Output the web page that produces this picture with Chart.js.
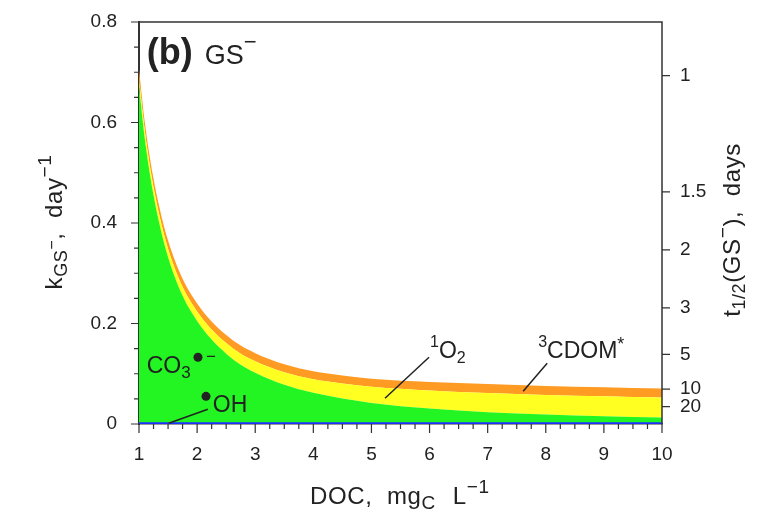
<!DOCTYPE html>
<html>
<head>
<meta charset="utf-8">
<script src="https://cdn.jsdelivr.net/npm/chart.js@4/dist/chart.umd.min.js"></script>
<style>
    body { margin: 0; background: #fff; }
    #wrap { width: 763px; height: 528px; }
</style>
</head>
<body>
<div id="wrap"><canvas id="gsChart" width="763" height="528"></canvas></div>
<script>
// DOC, mgC/L
const docValues = [1, 1.1, 1.2, 1.35, 1.5, 1.75, 2, 2.25, 2.5, 2.75, 3, 3.5, 4, 4.5, 5, 6, 7, 8, 9, 10];
// pseudo-first order rate constants, day^-1, per reactive species
const kOH    = [0.002, 0.002, 0.002, 0.002, 0.002, 0.002, 0.002, 0.002, 0.002, 0.002, 0.002, 0.002, 0.002, 0.002, 0.002, 0.002, 0.002, 0.002, 0.002, 0.002];
const kCO3   = [0.670, 0.565, 0.486, 0.397, 0.330, 0.253, 0.203, 0.166, 0.138, 0.116, 0.100, 0.0760, 0.0600, 0.0485, 0.040, 0.0286, 0.0215, 0.0167, 0.0133, 0.0107];
const k1O2   = [0.016, 0.016, 0.016, 0.017, 0.017, 0.018, 0.019, 0.020, 0.021, 0.022, 0.023, 0.025, 0.027, 0.030, 0.032, 0.036, 0.038, 0.039, 0.040, 0.040];
const k3CDOM = [0.018, 0.017, 0.017, 0.016, 0.016, 0.016, 0.016, 0.016, 0.016, 0.016, 0.016, 0.016, 0.016, 0.016, 0.016, 0.017, 0.018, 0.018, 0.018, 0.018];

const xTicks = [1, 2, 3, 4, 5, 6, 7, 8, 9, 10];
const yTicks = [0, 0.2, 0.4, 0.6, 0.8];
const halfLives = [1, 1.5, 2, 3, 5, 10, 20]; // days, right axis

const FONT = '"Liberation Sans", Arial, sans-serif';
const AXIS = '#333';

// stack the layers: each one sits on top of the previous
function stackOn(base, layer) {
    return layer.map((v, i) => (base ? base[i] : 0) + v);
}
const topOH = stackOn(null, kOH);
const topCO3 = stackOn(topOH, kCO3);
const top1O2 = stackOn(topCO3, k1O2);
const top3CDOM = stackOn(top1O2, k3CDOM);

function pts(arr) {
    return docValues.map((x, i) => ({ x: x, y: arr[i] }));
}

// draw a run of text pieces (sub/superscripts), returns end x
function drawParts(ctx, x, y, parts) {
    parts.forEach(p => {
        ctx.font = (p.w || 'normal') + ' ' + p.s + 'px ' + FONT;
        ctx.fillText(p.t, x, y + (p.dy || 0));
        x += ctx.measureText(p.t).width + (p.gap || 0);
    });
    return x;
}
function partsWidth(ctx, parts) {
    let w = 0;
    parts.forEach(p => {
        ctx.font = (p.w || 'normal') + ' ' + p.s + 'px ' + FONT;
        w += ctx.measureText(p.t).width + (p.gap || 0);
    });
    return w;
}

const decorations = {
    id: 'decorations',
    afterDraw(chart) {
        const ctx = chart.ctx;
        const xs = chart.scales.x, ys = chart.scales.y;
        const area = chart.chartArea;
        const px = v => xs.getPixelForValue(v);
        const py = v => ys.getPixelForValue(v);
        ctx.save();

        // box: top and right
        ctx.strokeStyle = AXIS;
        ctx.lineWidth = 1.5;
        ctx.beginPath();
        ctx.moveTo(area.left, area.top);
        ctx.lineTo(area.right, area.top);
        ctx.lineTo(area.right, area.bottom);
        ctx.stroke();

        // ticks
        ctx.lineWidth = 1.2;
        ctx.beginPath();
        for (let v = 1; v <= 10.001; v += 0.25) {
            const len = Math.abs(v - Math.round(v)) < 1e-6 ? 9 : 5;
            ctx.moveTo(px(v), area.bottom);
            ctx.lineTo(px(v), area.bottom + len);
        }
        for (let v = 0; v <= 0.8001; v += 0.05) {
            const major = Math.abs(v / 0.2 - Math.round(v / 0.2)) < 1e-6;
            const len = major ? 8 : 5;
            ctx.moveTo(area.left, py(v));
            ctx.lineTo(area.left - len, py(v));
        }
        halfLives.forEach(t => {
            ctx.moveTo(area.right, py(Math.LN2 / t));
            ctx.lineTo(area.right + 8, py(Math.LN2 / t));
        });
        ctx.stroke();

        ctx.fillStyle = '#222';
        ctx.textBaseline = 'alphabetic';
        ctx.textAlign = 'left';

        // panel label
        let x = drawParts(ctx, px(1.133), py(0.716), [{ t: '(b)', s: 36, w: 'bold', gap: 12 }]);
        drawParts(ctx, x, py(0.716), [{ t: 'GS', s: 27 }, { t: '\u2212', s: 22, dy: -15 }]);

        // species labels
        drawParts(ctx, px(1.133), py(0.1009), [{ t: 'CO', s: 23 }, { t: '3', s: 17, dy: 5 }]);
        ctx.beginPath();
        ctx.arc(px(2.015), py(0.1328), 4.5, 0, Math.PI * 2);
        ctx.fill();
        drawParts(ctx, px(2.015) + 8, py(0.1328) + 5, [{ t: '\u2212', s: 17 }]);

        ctx.beginPath();
        ctx.arc(px(2.153), py(0.0551), 4.5, 0, Math.PI * 2);
        ctx.fill();
        drawParts(ctx, px(2.27), py(0.0233), [{ t: 'OH', s: 23 }]);

        drawParts(ctx, px(6.008), py(0.1307), [{ t: '1', s: 16, dy: -11 }, { t: 'O', s: 23 }, { t: '2', s: 16, dy: 5 }]);
        drawParts(ctx, px(7.869), py(0.1307), [{ t: '3', s: 16, dy: -11 }, { t: 'CDOM', s: 23 }, { t: '*', s: 18, dy: -8 }]);

        // leader lines
        ctx.strokeStyle = '#222';
        ctx.lineWidth = 1.5;
        [[1.512, 0.0014, 2.184, 0.0293], [5.233, 0.0511, 5.991, 0.1328], [7.611, 0.0651, 8.024, 0.1208]].forEach(l => {
            ctx.beginPath();
            ctx.moveTo(px(l[0]), py(l[1]));
            ctx.lineTo(px(l[2]), py(l[3]));
            ctx.stroke();
        });

        // axis titles
        ctx.letterSpacing = '0.6px';
        const xTitle = [{ t: 'DOC,  mg', s: 24 }, { t: 'C', s: 19, dy: 5, gap: 17 }, { t: 'L', s: 24 }, { t: '\u22121', s: 19, dy: -11 }];
        drawParts(ctx, 310, 504, xTitle);

        const yTitle = [{ t: 'k', s: 24 }, { t: 'GS', s: 18, dy: 5 }, { t: '\u2212', s: 16, dy: -5 }, { t: ',  day', s: 24 }, { t: '\u22121', s: 19, dy: -11 }];
        const yw = partsWidth(ctx, yTitle);
        ctx.save();
        ctx.translate(62, 222);
        ctx.rotate(-Math.PI / 2);
        drawParts(ctx, -yw / 2, 0, yTitle);
        ctx.restore();

        const rTitle = [{ t: 't', s: 24 }, { t: '1/2', s: 18, dy: 5 }, { t: '(GS', s: 24 }, { t: '\u2212', s: 19, dy: -11 }, { t: '),  days', s: 24 }];
        const rw = partsWidth(ctx, rTitle);
        ctx.save();
        ctx.translate(740, 230);
        ctx.rotate(-Math.PI / 2);
        drawParts(ctx, -rw / 2, 0, rTitle);
        ctx.restore();

        ctx.restore();
    }
};

function layer(label, arr, color, fill) {
    return {
        label: label,
        data: pts(arr),
        borderWidth: 0,
        borderColor: color,
        backgroundColor: color,
        fill: fill,
        pointRadius: 0,
        cubicInterpolationMode: 'monotone'
    };
}

// fixed plot box: no extra room reserved for the end labels
function noPad(s) {
    s.paddingTop = 0;
    s.paddingBottom = 0;
}

document.addEventListener("DOMContentLoaded", function() {
    const ctx = document.getElementById("gsChart").getContext("2d");
    const blue = layer('OH', topOH, '#2030ff', 'origin');
    blue.borderWidth = 1.5;
    new Chart(ctx, {
        type: "line",
        data: {
            datasets: [
                blue,
                layer('CO3', topCO3, '#22f522', '-1'),
                layer('1O2', top1O2, '#ffff22', '-1'),
                layer('3CDOM', top3CDOM, '#ff9a22', '-1')
            ]
        },
        options: {
            responsive: false,
            animation: false,
            layout: { padding: { top: 22 } },
            plugins: { legend: { display: false }, tooltip: { enabled: false } },
            scales: {
                x: {
                    type: 'linear', min: 1, max: 10,
                    afterFit: s => { s.height = 104; },
                    afterBuildTicks: s => { s.ticks = xTicks.map(v => ({ value: v })); },
                    grid: { display: true, drawOnChartArea: false, drawTicks: false },
                    border: { color: AXIS, width: 1.5 },
                    ticks: { padding: 19, autoSkip: false, maxRotation: 0, color: '#222', font: { family: FONT, size: 19 } }
                },
                y: {
                    min: 0, max: 0.8,
                    afterFit: s => { s.width = 139; noPad(s); },
                    afterBuildTicks: s => { s.ticks = yTicks.map(v => ({ value: v })); },
                    grid: { display: true, drawOnChartArea: false, drawTicks: false },
                    border: { color: AXIS, width: 2 },
                    ticks: { padding: 22, color: '#222', font: { family: FONT, size: 19 },
                        callback: v => v === 0 ? '0' : v.toFixed(1) }
                },
                y2: {
                    position: 'right', min: 0, max: 0.8,
                    afterFit: s => { s.width = 101; noPad(s); },
                    afterBuildTicks: s => { s.ticks = halfLives.map(t => ({ value: Math.LN2 / t })); },
                    grid: { display: true, drawOnChartArea: false, drawTicks: false },
                    border: { display: false },
                    ticks: { padding: 18, color: '#222', font: { family: FONT, size: 19 },
                        callback: (v, i) => String(halfLives[i]) }
                }
            }
        },
        plugins: [decorations]
    });
});
</script>
</body>
</html>
